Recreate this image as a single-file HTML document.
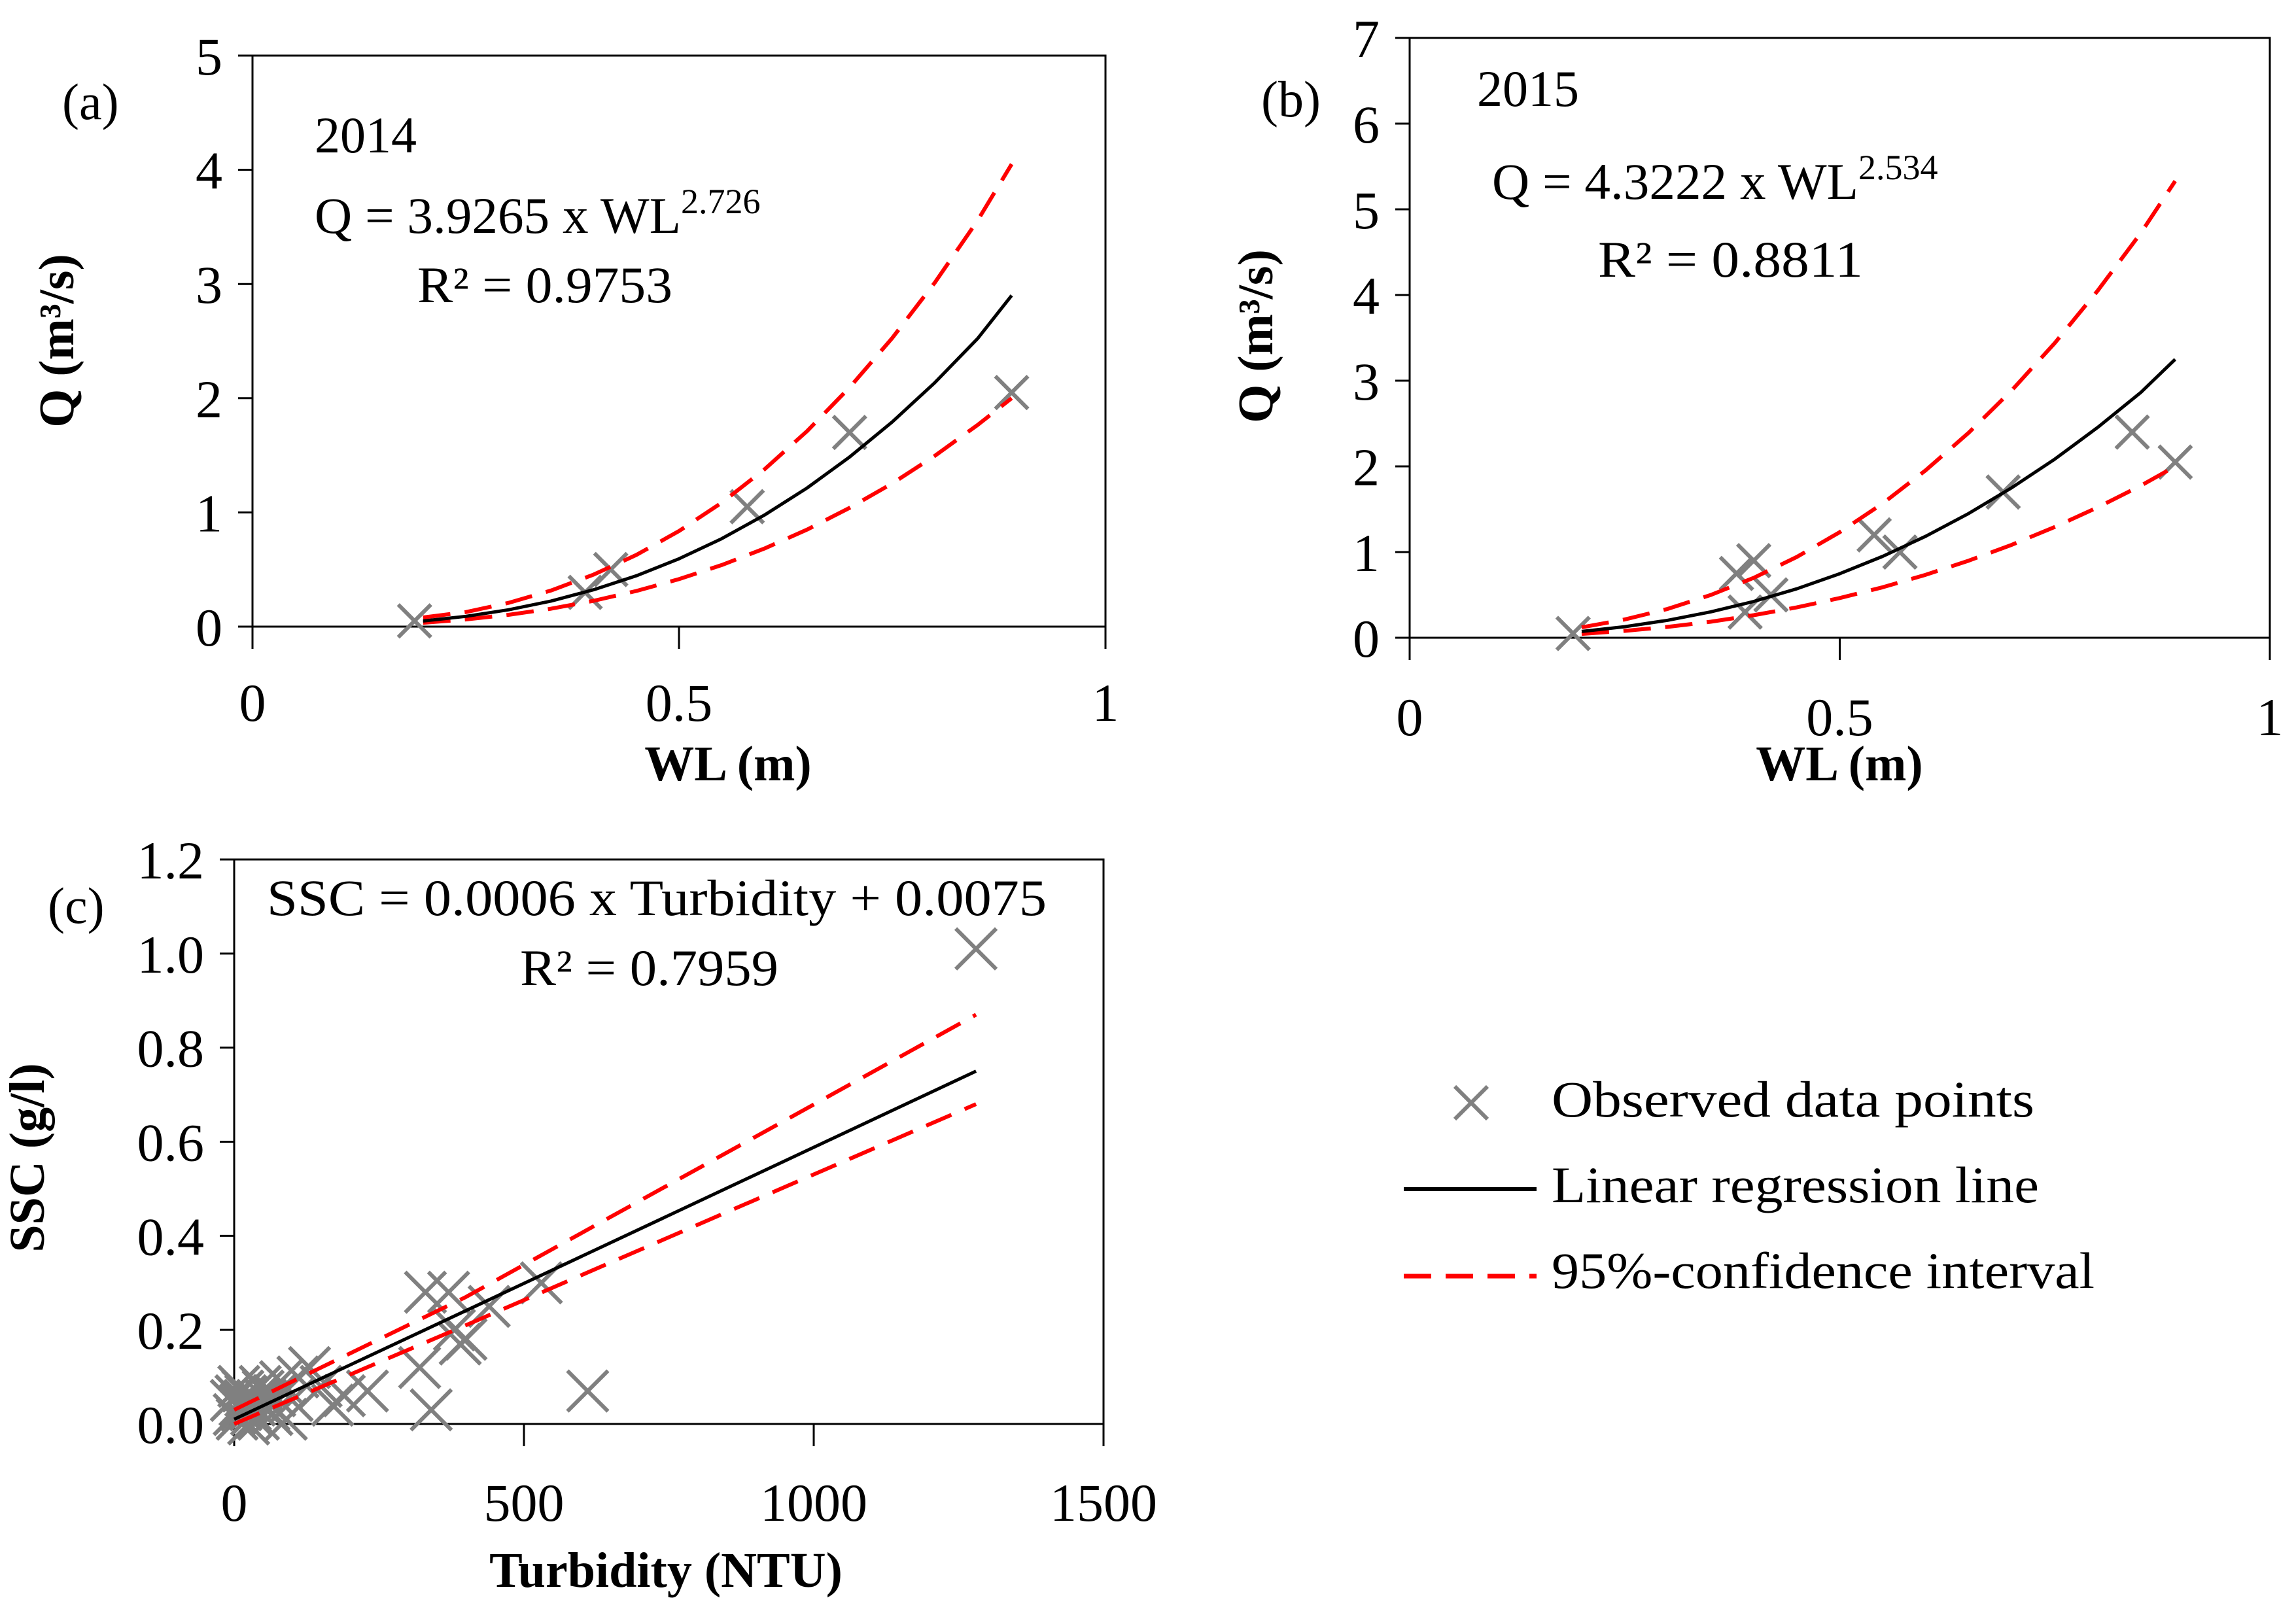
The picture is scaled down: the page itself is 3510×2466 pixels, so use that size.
<!DOCTYPE html>
<html><head><meta charset="utf-8"><style>
html,body{margin:0;padding:0;background:#fff}
svg{display:block}
text{font-family:"Liberation Serif",serif;fill:#000}
.tk{font-size:82px}
.ann{font-size:78px}
.ttl{font-size:76px;font-weight:bold}
</style></head><body>
<svg id="fig" width="3510" height="2466" viewBox="0 0 3510 2466" xmlns="http://www.w3.org/2000/svg">
<g id="pa"></g>
<g id="pb"></g>
<g id="pc"></g>
<g id="legend">
  <g>
    <path d="M2224 1661 L2274 1711 M2274 1661 L2224 1711" stroke="#808080" stroke-width="6" fill="none"/>
    <text x="2372" y="1707" style="font-size:78px" textLength="738" lengthAdjust="spacingAndGlyphs">Observed data points</text>
  </g>
  <g>
    <line x1="2146" y1="1818" x2="2349" y2="1818" stroke="#000" stroke-width="6"/>
    <text x="2372" y="1838" style="font-size:78px" textLength="745" lengthAdjust="spacingAndGlyphs">Linear regression line</text>
  </g>
  <g>
    <line x1="2146" y1="1951" x2="2349" y2="1951" stroke="#f00" stroke-width="7" stroke-dasharray="42,22"/>
    <text x="2372" y="1969" style="font-size:78px" textLength="830" lengthAdjust="spacingAndGlyphs">95%-confidence interval</text>
  </g>
</g>
</svg>
<script>
// ---- Panel (a) data ----
const aObsX = [0.19, 0.39, 0.42, 0.58, 0.70, 0.89];
const aObsY = [0.05, 0.30, 0.50, 1.05, 1.70, 2.05];
const aCurveX = [0.2,0.25,0.3,0.35,0.4,0.45,0.5,0.55,0.6,0.65,0.7,0.75,0.8,0.85,0.89];
const aFitY = [0.049,0.090,0.147,0.224,0.323,0.445,0.594,0.770,0.976,1.213,1.485,1.792,2.137,2.521,2.90];
const aUpY = [0.080,0.127,0.208,0.316,0.456,0.628,0.837,1.085,1.376,1.711,2.094,2.527,3.013,3.555,4.05];
const aLoY = [0.034,0.063,0.103,0.157,0.226,0.312,0.416,0.539,0.683,0.849,1.040,1.254,1.496,1.765,2.00];
const aYTicks = [0, 1, 2, 3, 4, 5];
const aXTicks = [0, 0.5, 1];
const aXTickLabels = ["0", "0.5", "1"];
// ---- Panel (b) data ----
const bObsX = [0.19, 0.38, 0.40, 0.39, 0.42, 0.54, 0.57, 0.69, 0.84, 0.89];
const bObsY = [0.05, 0.75, 0.90, 0.30, 0.50, 1.20, 1.00, 1.70, 2.40, 2.05];
const bCurveX = [0.2,0.25,0.3,0.35,0.4,0.45,0.5,0.55,0.6,0.65,0.7,0.75,0.8,0.85,0.89];
const bFitY = [0.073,0.129,0.204,0.302,0.424,0.571,0.747,0.950,1.185,1.451,1.751,2.085,2.456,2.863,3.25];
const bUpY = [0.121,0.213,0.337,0.499,0.699,0.943,1.232,1.568,1.955,2.394,2.888,3.440,4.052,4.724,5.33];
const bLoY = [0.045,0.080,0.127,0.187,0.263,0.354,0.463,0.589,0.735,0.900,1.085,1.293,1.522,1.775,2.00];
const bYTicks = [0, 1, 2, 3, 4, 5, 6, 7];
const bXTicks = [0, 0.5, 1];
const bXTickLabels = ["0", "0.5", "1"];
// ---- Panel (c) data ----
const cObsX = [0,5,8,10,12,15,20,25,30,35,40,45,50,55,60,65,70,80,90,100,110,130,150,170,190,230,320,330,340,370,380,390,400,440,530,610,1280,-5,3,18,28,42];
const cObsY = [0.02,0.01,0.08,0.04,0.03,0.07,0.06,0.00,0.02,0.04,0.05,0.08,0.07,0.05,0.03,0.02,0.06,0.09,0.01,0.05,0.10,0.12,0.08,0.04,0.06,0.07,0.12,0.28,0.03,0.28,0.20,0.17,0.18,0.25,0.30,0.07,1.01,0.05,0.06,0.05,0.03,0.01];
const cLineX = [0, 400, 1280];
const cFitY = [0.010, 0.241, 0.750];
const cUpY = [0.030, 0.270, 0.870];
const cLoY = [0.000, 0.210, 0.680];
const cYTicks = [0, 0.2, 0.4, 0.6, 0.8, 1.0, 1.2];
const cYTickLabels = ["0.0","0.2","0.4","0.6","0.8","1.0","1.2"];
const cXTicks = [0, 500, 1000, 1500];
const cXTickLabels = ["0","500","1000","1500"];

const NS = "http://www.w3.org/2000/svg";
function mk(parent, tag, attrs, txt){
  const e = document.createElementNS(NS, tag);
  for (const k in attrs) e.setAttribute(k, attrs[k]);
  if (txt !== undefined) e.textContent = txt;
  parent.appendChild(e);
  return e;
}
function scale(d0, d1, r0, r1){ return v => r0 + (v - d0) / (d1 - d0) * (r1 - r0); }

function panel(g, cfg){
  const sx = scale(cfg.xd[0], cfg.xd[1], cfg.x0, cfg.x1);
  const sy = scale(cfg.yd[0], cfg.yd[1], cfg.y0, cfg.y1);
  const fr = mk(g, "rect", {x: cfg.x0, y: cfg.y1, width: cfg.x1 - cfg.x0, height: cfg.y0 - cfg.y1, fill: "none", stroke: "#000", "stroke-width": 3});
  
  
  cfg.yt.forEach((v, i) => {
    const y = sy(v);
    const t = mk(g, "line", {x1: cfg.x0 - 22, y1: y, x2: cfg.x0, y2: y, stroke: "#000", "stroke-width": 3});
    
    
    const l = mk(g, "text", {x: cfg.x0 - 46, y: y + 29, "text-anchor": "end", class: "tk"}, cfg.ytl ? cfg.ytl[i] : String(v));
    
    
  });
  cfg.xt.forEach((v, i) => {
    const x = sx(v);
    const t = mk(g, "line", {x1: x, y1: cfg.y0, x2: x, y2: cfg.y0 + 34, stroke: "#000", "stroke-width": 3});
    
    
    const l = mk(g, "text", {x: x, y: cfg.xlY, "text-anchor": "middle", class: "tk"}, cfg.xtl[i]);
    
    
  });
  const h = cfg.ms / 2;
  cfg.ox.forEach((v, i) => {
    const x = sx(v), y = sy(cfg.oy[i]);
    const p = mk(g, "path", {d: `M${x-h} ${y-h} L${x+h} ${y+h} M${x+h} ${y-h} L${x-h} ${y+h}`, stroke: "#808080", "stroke-width": 6, fill: "none"});
    
    
  });
  function line(xs, ys, stroke, w, dash, name){
    const d = xs.map((v, i) => (i ? "L" : "M") + sx(v).toFixed(1) + " " + sy(ys[i]).toFixed(1)).join(" ");
    const a = {d: d, stroke: stroke, "stroke-width": w, fill: "none", "stroke-linejoin": "round"};
    if (dash) a["stroke-dasharray"] = dash;
    const p = mk(g, "path", a);
    
    
  }
  line(cfg.cx, cfg.up, "#f00", 6, "42,22", "upper-confidence-line");
  line(cfg.cx, cfg.lo, "#f00", 6, "42,22", "lower-confidence-line");
  line(cfg.cx, cfg.fit, "#000", 5, null, "regression-line");
}

panel(document.getElementById("pa"), {
  x0: 386, x1: 1690, y0: 958, y1: 85, xd: [0, 1], yd: [0, 5],
  yt: aYTicks, xt: aXTicks, xtl: aXTickLabels, xlY: 1102, ms: 50,
  ox: aObsX, oy: aObsY, cx: aCurveX, fit: aFitY, up: aUpY, lo: aLoY
});
panel(document.getElementById("pb"), {
  x0: 2155, x1: 3470, y0: 975, y1: 58, xd: [0, 1], yd: [0, 7],
  yt: bYTicks, xt: bXTicks, xtl: bXTickLabels, xlY: 1124, ms: 50,
  ox: bObsX, oy: bObsY, cx: bCurveX, fit: bFitY, up: bUpY, lo: bLoY
});
panel(document.getElementById("pc"), {
  x0: 358, x1: 1687, y0: 2177, y1: 1314, xd: [0, 1500], yd: [0, 1.2],
  yt: cYTicks, ytl: cYTickLabels, xt: cXTicks, xtl: cXTickLabels, xlY: 2325, ms: 62,
  ox: cObsX, oy: cObsY, cx: cLineX, fit: cFitY, up: cUpY, lo: cLoY
});
</script>
<svg style="position:absolute;left:0;top:0" width="3510" height="2466" viewBox="0 0 3510 2466" xmlns="http://www.w3.org/2000/svg">
  <text x="95" y="182" class="ann">(a)</text>
  <text x="481" y="233" class="ann">2014</text>
  <text x="481" y="356" class="ann"><tspan textLength="560" lengthAdjust="spacingAndGlyphs">Q = 3.9265 x WL</tspan><tspan dy="-30" style="font-size:54px">2.726</tspan></text>
  <text x="638" y="462" class="ann" textLength="390" lengthAdjust="spacingAndGlyphs">R² = 0.9753</text>
  <text x="112" y="521" class="ttl" text-anchor="middle" transform="rotate(-90 112 521)">Q (m³/s)</text>
  <text x="1113" y="1193" class="ttl" text-anchor="middle">WL (m)</text>

  <text x="1928" y="178" class="ann">(b)</text>
  <text x="2258" y="162" class="ann">2015</text>
  <text x="2281" y="304" class="ann"><tspan textLength="560" lengthAdjust="spacingAndGlyphs">Q = 4.3222 x WL</tspan><tspan dy="-30" style="font-size:54px">2.534</tspan></text>
  <text x="2443" y="423" class="ann" textLength="405" lengthAdjust="spacingAndGlyphs">R² = 0.8811</text>
  <text x="1945" y="514" class="ttl" text-anchor="middle" transform="rotate(-90 1945 514)">Q (m³/s)</text>
  <text x="2812" y="1193" class="ttl" text-anchor="middle">WL (m)</text>

  <text x="73" y="1411" class="ann">(c)</text>
  <text x="408" y="1399" class="ann" textLength="1192" lengthAdjust="spacingAndGlyphs">SSC = 0.0006 x Turbidity + 0.0075</text>
  <text x="795" y="1506" class="ann" textLength="395" lengthAdjust="spacingAndGlyphs">R² = 0.7959</text>
  <text x="67" y="1770" class="ttl" text-anchor="middle" transform="rotate(-90 67 1770)">SSC (g/l)</text>
  <text x="1018" y="2426" class="ttl" text-anchor="middle">Turbidity (NTU)</text>
</svg>
</body></html>
